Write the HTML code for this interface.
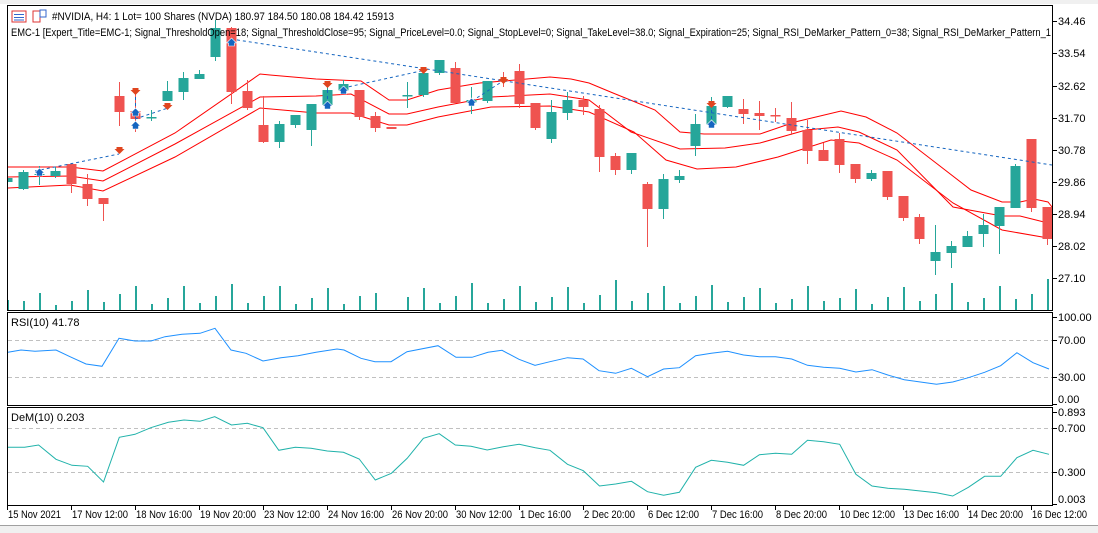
<!DOCTYPE html>
<html><head><meta charset="utf-8"><style>
html,body{margin:0;padding:0;background:#fff;}
svg{display:block;font-family:"Liberation Sans",sans-serif;font-size:11px;}
</style></head><body>
<svg width="1098" height="533" viewBox="0 0 1098 533" xmlns="http://www.w3.org/2000/svg">
<defs><clipPath id="c"><rect x="8" y="6" width="1044" height="304"/></clipPath></defs>
<rect x="0" y="0" width="1098" height="4" fill="#f0f0f0"/>
<rect x="0" y="525" width="1098" height="8" fill="#f0f0f0"/>
<line x1="0" y1="525.5" x2="1098" y2="525.5" stroke="#a0a0a0"/>
<rect x="7.5" y="5.5" width="1045" height="305" fill="none" stroke="#000"/>
<rect x="7.5" y="312.5" width="1045" height="93" fill="none" stroke="#000"/>
<rect x="7.5" y="407.5" width="1045" height="98" fill="none" stroke="#000"/>

<g clip-path="url(#c)">
<g fill="#26a69a">
<rect x="7" y="300" width="2" height="10"/><rect x="23" y="301" width="2" height="9"/><rect x="39" y="293" width="2" height="17"/><rect x="55" y="305" width="2" height="5"/><rect x="71" y="301" width="2" height="9"/><rect x="87" y="290" width="2" height="20"/><rect x="103" y="302" width="2" height="8"/><rect x="119" y="294" width="2" height="16"/><rect x="135" y="286" width="2" height="24"/><rect x="151" y="304" width="2" height="6"/><rect x="167" y="298" width="2" height="12"/><rect x="183" y="286" width="2" height="24"/><rect x="199" y="303" width="2" height="7"/><rect x="215" y="296" width="2" height="14"/><rect x="231" y="284" width="2" height="26"/><rect x="247" y="303" width="2" height="7"/><rect x="263" y="296" width="2" height="14"/><rect x="279" y="286" width="2" height="24"/><rect x="295" y="304" width="2" height="6"/><rect x="311" y="298" width="2" height="12"/><rect x="327" y="288" width="2" height="22"/><rect x="343" y="304" width="2" height="6"/><rect x="359" y="296" width="2" height="14"/><rect x="375" y="293" width="2" height="17"/><rect x="407" y="297" width="2" height="13"/><rect x="423" y="288" width="2" height="22"/><rect x="439" y="303" width="2" height="7"/><rect x="455" y="296" width="2" height="14"/><rect x="471" y="283" width="2" height="27"/><rect x="487" y="303" width="2" height="7"/><rect x="503" y="299" width="2" height="11"/><rect x="519" y="286" width="2" height="24"/><rect x="535" y="302" width="2" height="8"/>
<rect x="551" y="297" width="2" height="13"/><rect x="567" y="287" width="2" height="23"/><rect x="583" y="303" width="2" height="7"/><rect x="599" y="295" width="2" height="15"/><rect x="615" y="280" width="2" height="30"/><rect x="631" y="301" width="2" height="9"/><rect x="647" y="293" width="2" height="17"/><rect x="663" y="286" width="2" height="24"/><rect x="679" y="303" width="2" height="7"/><rect x="695" y="296" width="2" height="14"/><rect x="711" y="285" width="2" height="25"/><rect x="727" y="302" width="2" height="8"/><rect x="743" y="297" width="2" height="13"/><rect x="759" y="288" width="2" height="22"/><rect x="775" y="303" width="2" height="7"/><rect x="791" y="299" width="2" height="11"/><rect x="807" y="286" width="2" height="24"/><rect x="823" y="301" width="2" height="9"/><rect x="839" y="298" width="2" height="12"/><rect x="855" y="289" width="2" height="21"/><rect x="871" y="304" width="2" height="6"/><rect x="887" y="297" width="2" height="13"/><rect x="903" y="287" width="2" height="23"/><rect x="919" y="301" width="2" height="9"/><rect x="935" y="294" width="2" height="16"/><rect x="951" y="283" width="2" height="27"/><rect x="967" y="302" width="2" height="8"/><rect x="983" y="298" width="2" height="12"/><rect x="999" y="286" width="2" height="24"/><rect x="1015" y="299" width="2" height="11"/><rect x="1031" y="294" width="2" height="16"/><rect x="1047" y="279" width="2" height="31"/>
</g>
<g fill="none" stroke="#ff0000" stroke-width="1">
<polyline points="8,167 70,167 103,171 175,133 260,74 270,75 316,79 361,81 389,100 407,100 438,90 480,83 550,77 571,79 589,83 613,93 655,110 680,132 704,134 760,134 795,122 841,111 866,117 897,133 936,163 971,190 1002,202 1020,202 1034,199 1048,202 1052,207"/>
<polyline points="8,177 70,176 103,181 175,144 260,97 316,96 351,94 389,114 407,114 438,107 491,97 550,94 589,100 631,132 680,149 725,148 760,143 806,130 838,127 859,132 897,150 953,207 1002,216 1020,216 1048,223"/>
<polyline points="8,188 70,185 103,191 175,157 260,108 316,113 351,113 389,125 407,125 438,117 491,107 550,106 589,112 634,132 666,160 697,169 736,167 778,157 831,140 859,143 897,160 953,203 1002,230 1048,238"/>
</g>
<g fill="#26a69a">
<rect x="7" y="176" width="1" height="8"/><rect x="2.5" y="178" width="10" height="4"/>
<rect x="23" y="170" width="1" height="20"/><rect x="18.5" y="172" width="10" height="17"/>
<rect x="39" y="166" width="1" height="19"/><rect x="34.5" y="174" width="10" height="1"/>
<rect x="55" y="167" width="1" height="11"/><rect x="50.5" y="171" width="10" height="5"/>
<rect x="151" y="110" width="1" height="11"/><rect x="146.5" y="117" width="10" height="1.5"/>
<rect x="167" y="81" width="1" height="20"/><rect x="162.5" y="91" width="10" height="10"/>
<rect x="183" y="72" width="1" height="28"/><rect x="178.5" y="78" width="10" height="14"/>
<rect x="199" y="70" width="1" height="9"/><rect x="194.5" y="74" width="10" height="5"/>
<rect x="215" y="20" width="1" height="41"/><rect x="210.5" y="28" width="10" height="29"/>
<rect x="279" y="121" width="1" height="27"/><rect x="274.5" y="124" width="10" height="18"/>
<rect x="295" y="115" width="1" height="13"/><rect x="290.5" y="115" width="10" height="10"/>
<rect x="311" y="104" width="1" height="42"/><rect x="306.5" y="104" width="10" height="26"/>
<rect x="327" y="84" width="1" height="24"/><rect x="322.5" y="90" width="10" height="15"/>
<rect x="343" y="80" width="1" height="11"/><rect x="338.5" y="84" width="10" height="7"/>
<rect x="407" y="82" width="1" height="26"/><rect x="402.5" y="95" width="10" height="1.5"/>
<rect x="423" y="70" width="1" height="27"/><rect x="418.5" y="73" width="10" height="22"/>
<rect x="439" y="60" width="1" height="15"/><rect x="434.5" y="60" width="10" height="13"/>
<rect x="471" y="87" width="1" height="27"/><rect x="466.5" y="100" width="10" height="3"/>
<rect x="487" y="81" width="1" height="22"/><rect x="482.5" y="81" width="10" height="20"/>
<rect x="551" y="100" width="1" height="43"/><rect x="546.5" y="112" width="10" height="27"/>
<rect x="567" y="92" width="1" height="28"/><rect x="562.5" y="100" width="10" height="13"/>
<rect x="631" y="153" width="1" height="21"/><rect x="626.5" y="153" width="10" height="17"/>
<rect x="663" y="174" width="1" height="45"/><rect x="658.5" y="179" width="10" height="30"/>
<rect x="679" y="170" width="1" height="13"/><rect x="674.5" y="176" width="10" height="4"/>
<rect x="695" y="114" width="1" height="42"/><rect x="690.5" y="124" width="10" height="22"/>
<rect x="711" y="97" width="1" height="31"/><rect x="706.5" y="106" width="10" height="19"/>
<rect x="727" y="96" width="1" height="12"/><rect x="722.5" y="96" width="10" height="11"/>
<rect x="871" y="170" width="1" height="11"/><rect x="866.5" y="173" width="10" height="6"/>
<rect x="935" y="225" width="1" height="50"/><rect x="930.5" y="252" width="10" height="9"/>
<rect x="951" y="241" width="1" height="27"/><rect x="946.5" y="246" width="10" height="7"/>
<rect x="967" y="231" width="1" height="16"/><rect x="962.5" y="236" width="10" height="11"/>
<rect x="983" y="214" width="1" height="33"/><rect x="978.5" y="225" width="10" height="9"/>
<rect x="999" y="207" width="1" height="47"/><rect x="994.5" y="207" width="10" height="19"/>
<rect x="1015" y="164" width="1" height="44"/><rect x="1010.5" y="166" width="10" height="42"/>
</g>
<g fill="#ef5350">
<rect x="71" y="163" width="1" height="30"/><rect x="66.5" y="164" width="10" height="20"/>
<rect x="87" y="174" width="1" height="32"/><rect x="82.5" y="184" width="10" height="15"/>
<rect x="103" y="198" width="1" height="23"/><rect x="98.5" y="198" width="10" height="6"/>
<rect x="119" y="82" width="1" height="44"/><rect x="114.5" y="96" width="10" height="16"/>
<rect x="135" y="91" width="1" height="41"/><rect x="130.5" y="111" width="10" height="8"/>
<rect x="231" y="27" width="1" height="77"/><rect x="226.5" y="28" width="10" height="64"/>
<rect x="247" y="80" width="1" height="30"/><rect x="242.5" y="91" width="10" height="17"/>
<rect x="263" y="96" width="1" height="47"/><rect x="258.5" y="125" width="10" height="17"/>
<rect x="359" y="90" width="1" height="30"/><rect x="354.5" y="90" width="10" height="27"/>
<rect x="375" y="112" width="1" height="20"/><rect x="370.5" y="116" width="10" height="12"/>
<rect x="391" y="127" width="1" height="2"/><rect x="386.5" y="127" width="10" height="2"/>
<rect x="455" y="62" width="1" height="41"/><rect x="450.5" y="68" width="10" height="35"/>
<rect x="503" y="72" width="1" height="15"/><rect x="498.5" y="80" width="10" height="1.5"/>
<rect x="519" y="64" width="1" height="44"/><rect x="514.5" y="71" width="10" height="33"/>
<rect x="535" y="103" width="1" height="27"/><rect x="530.5" y="103" width="10" height="25"/>
<rect x="583" y="96" width="1" height="19"/><rect x="578.5" y="100" width="10" height="7"/>
<rect x="599" y="105" width="1" height="67"/><rect x="594.5" y="109" width="10" height="48"/>
<rect x="615" y="153" width="1" height="22"/><rect x="610.5" y="156" width="10" height="14"/>
<rect x="647" y="182" width="1" height="65"/><rect x="642.5" y="184" width="10" height="25"/>
<rect x="743" y="99" width="1" height="25"/><rect x="738.5" y="109" width="10" height="5"/>
<rect x="759" y="101" width="1" height="29"/><rect x="754.5" y="113" width="10" height="3"/>
<rect x="775" y="108" width="1" height="14"/><rect x="770.5" y="115" width="10" height="1.5"/>
<rect x="791" y="102" width="1" height="33"/><rect x="786.5" y="118" width="10" height="13"/>
<rect x="807" y="120" width="1" height="44"/><rect x="802.5" y="130" width="10" height="21"/>
<rect x="823" y="143" width="1" height="18"/><rect x="818.5" y="150" width="10" height="11"/>
<rect x="839" y="133" width="1" height="40"/><rect x="834.5" y="139" width="10" height="26"/>
<rect x="855" y="164" width="1" height="19"/><rect x="850.5" y="164" width="10" height="15"/>
<rect x="887" y="171" width="1" height="29"/><rect x="882.5" y="171" width="10" height="26"/>
<rect x="903" y="196" width="1" height="25"/><rect x="898.5" y="196" width="10" height="22"/>
<rect x="919" y="214" width="1" height="30"/><rect x="914.5" y="217" width="10" height="22"/>
<rect x="1031" y="139" width="1" height="73"/><rect x="1026.5" y="139" width="10" height="69"/>
<rect x="1047" y="207" width="1" height="38"/><rect x="1042.5" y="207" width="10" height="32"/>
</g>
<g fill="none" stroke="#1565c0" stroke-dasharray="3,3">
<polyline points="35,171 119,154"/>
<polyline points="135,119 168,108"/>
<polyline points="231,39 1052,165"/>
<polyline points="343,88 421,71"/>
<polyline points="472,101 503,81"/>
<line x1="135.5" y1="91" x2="135.5" y2="126"/>
<line x1="327.5" y1="84" x2="327.5" y2="106"/>
<line x1="711.5" y1="104" x2="711.5" y2="125"/>
</g>
<g fill="#e0451f">
<path d="M116.5,147h6v2h2l-5,5l-5,-5h2z"/>
<path d="M132.5,88h6v2h2l-5,5l-5,-5h2z"/>
<path d="M164.5,103h6v2h2l-5,5l-5,-5h2z"/>
<path d="M324.5,81h6v2h2l-5,5l-5,-5h2z"/>
<path d="M420.5,67h6v2h2l-5,5l-5,-5h2z"/>
<path d="M500.5,77h6v2h2l-5,5l-5,-5h2z"/>
<path d="M708.5,101h6v2h2l-5,5l-5,-5h2z"/>
</g>
<g fill="#1565c0" stroke="#fff" stroke-width="0.6">
<path d="M39.5,168l5,5h-2v3h-6v-3h-2z"/>
<path d="M135.5,108l5,5h-2v3h-6v-3h-2z"/>
<path d="M135.5,121l5,5h-2v3h-6v-3h-2z"/>
<path d="M231.5,38l5,5h-2v3h-6v-3h-2z"/>
<path d="M327.5,101l5,5h-2v3h-6v-3h-2z"/>
<path d="M343.5,86l5,5h-2v3h-6v-3h-2z"/>
<path d="M471.5,98l5,5h-2v3h-6v-3h-2z"/>
<path d="M711.5,120l5,5h-2v3h-6v-3h-2z"/>
</g>
</g>
<rect x="12" y="11" width="14" height="11" fill="#fff" stroke="#d33" stroke-width="1"/>
<line x1="14" y1="14.5" x2="24" y2="14.5" stroke="#36c"/><line x1="14" y1="17.5" x2="24" y2="17.5" stroke="#36c"/><line x1="14" y1="20" x2="24" y2="20" stroke="#36c"/>
<rect x="33" y="11" width="7" height="11" fill="#fff" stroke="#d33"/>
<rect x="40" y="10" width="6" height="7" fill="#fff" stroke="#36c"/>
<text x="52" y="20" textLength="342" lengthAdjust="spacingAndGlyphs">#NVIDIA, H4:  1 Lot= 100 Shares (NVDA)  180.97 184.50 180.08 184.42  15913</text>
<text x="11" y="36" textLength="1040" lengthAdjust="spacingAndGlyphs">EMC-1 [Expert_Title=EMC-1; Signal_ThresholdOpen=18; Signal_ThresholdClose=95; Signal_PriceLevel=0.0; Signal_StopLevel=0; Signal_TakeLevel=38.0; Signal_Expiration=25; Signal_RSI_DeMarker_Pattern_0=38; Signal_RSI_DeMarker_Pattern_1</text>
<g stroke="#000">
<line x1="1053" y1="21.5" x2="1057" y2="21.5"/><line x1="1053" y1="53.5" x2="1057" y2="53.5"/><line x1="1053" y1="86.5" x2="1057" y2="86.5"/><line x1="1053" y1="118.5" x2="1057" y2="118.5"/><line x1="1053" y1="150.5" x2="1057" y2="150.5"/><line x1="1053" y1="182.5" x2="1057" y2="182.5"/><line x1="1053" y1="214.5" x2="1057" y2="214.5"/><line x1="1053" y1="246.5" x2="1057" y2="246.5"/><line x1="1053" y1="278.5" x2="1057" y2="278.5"/>
<line x1="1053" y1="317.5" x2="1057" y2="317.5"/><line x1="1053" y1="340.5" x2="1057" y2="340.5"/><line x1="1053" y1="377.5" x2="1057" y2="377.5"/><line x1="1053" y1="404.5" x2="1057" y2="404.5"/>
<line x1="1053" y1="412.5" x2="1057" y2="412.5"/><line x1="1053" y1="428.5" x2="1057" y2="428.5"/><line x1="1053" y1="472.5" x2="1057" y2="472.5"/><line x1="1053" y1="504.5" x2="1057" y2="504.5"/>
</g>
<g fill="#000">
<text x="1058" y="25">34.46</text><text x="1058" y="57">33.54</text><text x="1058" y="90">32.62</text><text x="1058" y="122">31.70</text><text x="1058" y="154">30.78</text><text x="1058" y="186">29.86</text><text x="1058" y="218">28.94</text><text x="1058" y="250">28.02</text><text x="1058" y="282">27.10</text>
<text x="1058" y="321">100.00</text><text x="1058" y="344">70.00</text><text x="1058" y="381">30.00</text><text x="1058" y="403">0.00</text>
<text x="1058" y="416">0.893</text><text x="1058" y="432">0.700</text><text x="1058" y="476">0.300</text><text x="1058" y="503">0.003</text>
</g>
<g stroke="#c0c0c0" stroke-dasharray="4,3"><line x1="8" y1="340.5" x2="1052" y2="340.5"/><line x1="8" y1="377.5" x2="1052" y2="377.5"/><line x1="8" y1="428.5" x2="1052" y2="428.5"/><line x1="8" y1="472.5" x2="1052" y2="472.5"/></g>
<text x="11" y="326">RSI(10) 41.78</text>
<polyline fill="none" stroke="#1e90ff" points="8,352.3 21,350 35,351.3 56,350 70,356.7 86,364 102,366.3 119,338.3 135,341 151,341 165,336.7 182,334.3 200,333.3 215,328.3 231,350 246,353.3 263,361 281,357.7 298,355.7 316,352.3 337,349 344,350 361,358.3 375,361.7 391,361.7 407,351.7 438,345.7 456,357.3 472,357.3 488,352.3 502,350.3 519,359.3 535,365.3 550,361.7 567.5,357.7 583,359 599,370.7 615.6,373.3 631.4,368.3 647.5,376.7 663.6,369 679.4,367.7 695.6,355.7 711.3,353.3 727.5,351.3 743.6,355 759.4,356.7 775.5,356.7 791.7,359 807.5,365.3 823.6,367.3 839.7,368.3 855.9,372 872,369.7 887.8,375 904.3,379.7 920.4,382 936.5,384.3 952.7,382 968.4,377.7 984.6,372.3 1000.7,365.7 1016.9,352.7 1033,362.7 1049,369"/>
<text x="11" y="421">DeM(10) 0.203</text>
<polyline fill="none" stroke="#20b2aa" points="8,447.3 24.6,447.3 38.6,445 56,459.3 72,465.3 87.7,466.3 103.5,482 119.3,437.3 135,434.3 150.8,427.7 168.4,422.3 184,420 200,421.3 214.7,416.7 231.5,425 247.3,423.3 263,427.7 278.8,450.3 295.3,447.3 311,448.3 327.3,451 343.4,452.3 359.2,459 375.3,480 391.4,473.3 407.2,458.3 423.4,438.3 439.2,433.7 455.3,445 471,446.3 487.2,450 503.3,446.7 519.1,444.3 535.3,447.7 550,450.3 567.5,464.3 583.3,470.7 599.5,486 615.6,484 631.4,481.3 647.5,491.7 663.6,495.3 679.4,492.3 695.6,467.3 711.3,460.3 727.5,462.3 743.6,465.3 759.4,454.7 775.5,453.3 791.7,454.3 807.5,440.3 823.6,441.7 839.7,444.3 855.9,474.3 872,486 887.8,488.3 904.3,489.3 920.4,491 936.5,492.7 952.7,496 968.4,487.3 984.6,476.3 1000.7,476.3 1016.9,457.7 1033,450.3 1049,454.3"/>
<g stroke="#000">
<line x1="7.5" y1="505" x2="7.5" y2="510"/><line x1="71.5" y1="505" x2="71.5" y2="510"/><line x1="135.5" y1="505" x2="135.5" y2="510"/><line x1="199.5" y1="505" x2="199.5" y2="510"/><line x1="263.5" y1="505" x2="263.5" y2="510"/><line x1="327.5" y1="505" x2="327.5" y2="510"/><line x1="391.5" y1="505" x2="391.5" y2="510"/><line x1="455.5" y1="505" x2="455.5" y2="510"/><line x1="519.5" y1="505" x2="519.5" y2="510"/><line x1="583.5" y1="505" x2="583.5" y2="510"/><line x1="647.5" y1="505" x2="647.5" y2="510"/><line x1="711.5" y1="505" x2="711.5" y2="510"/><line x1="775.5" y1="505" x2="775.5" y2="510"/><line x1="839.5" y1="505" x2="839.5" y2="510"/><line x1="903.5" y1="505" x2="903.5" y2="510"/><line x1="967.5" y1="505" x2="967.5" y2="510"/><line x1="1031.5" y1="505" x2="1031.5" y2="510"/>
</g>
<g fill="#000" font-size="11">
<text x="8" y="518" textLength="53" lengthAdjust="spacingAndGlyphs">15 Nov 2021</text>
<text x="72" y="518" textLength="56" lengthAdjust="spacingAndGlyphs">17 Nov 12:00</text>
<text x="136" y="518" textLength="56" lengthAdjust="spacingAndGlyphs">18 Nov 16:00</text>
<text x="200" y="518" textLength="56" lengthAdjust="spacingAndGlyphs">19 Nov 20:00</text>
<text x="264" y="518" textLength="56" lengthAdjust="spacingAndGlyphs">23 Nov 12:00</text>
<text x="328" y="518" textLength="56" lengthAdjust="spacingAndGlyphs">24 Nov 16:00</text>
<text x="392" y="518" textLength="56" lengthAdjust="spacingAndGlyphs">26 Nov 20:00</text>
<text x="456" y="518" textLength="56" lengthAdjust="spacingAndGlyphs">30 Nov 12:00</text>
<text x="520" y="518" textLength="51" lengthAdjust="spacingAndGlyphs">1 Dec 16:00</text>
<text x="584" y="518" textLength="51" lengthAdjust="spacingAndGlyphs">2 Dec 20:00</text>
<text x="648" y="518" textLength="51" lengthAdjust="spacingAndGlyphs">6 Dec 12:00</text>
<text x="712" y="518" textLength="51" lengthAdjust="spacingAndGlyphs">7 Dec 16:00</text>
<text x="776" y="518" textLength="51" lengthAdjust="spacingAndGlyphs">8 Dec 20:00</text>
<text x="840" y="518" textLength="55" lengthAdjust="spacingAndGlyphs">10 Dec 12:00</text>
<text x="904" y="518" textLength="55" lengthAdjust="spacingAndGlyphs">13 Dec 16:00</text>
<text x="968" y="518" textLength="55" lengthAdjust="spacingAndGlyphs">14 Dec 20:00</text>
<text x="1032" y="518" textLength="55" lengthAdjust="spacingAndGlyphs">16 Dec 12:00</text>
</g>
</svg>
</body></html>
